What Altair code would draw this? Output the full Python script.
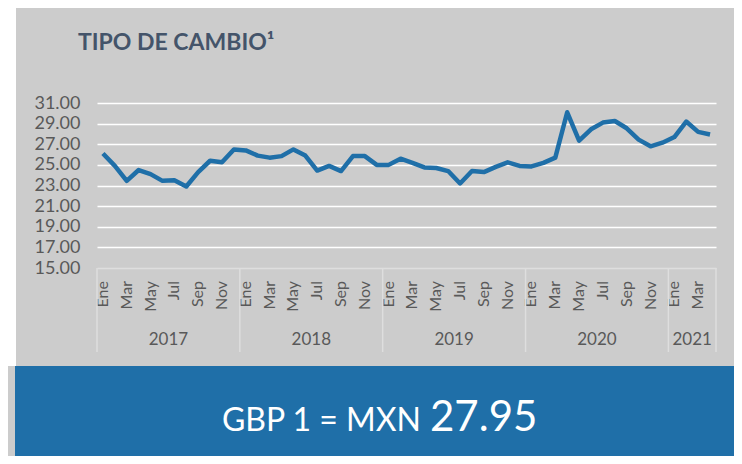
import altair as alt
import pandas as pd

# ---- data -------------------------------------------------------------
month_names = ["Ene", "Feb", "Mar", "Abr", "May", "Jun",
               "Jul", "Ago", "Sep", "Oct", "Nov", "Dic"]
years = [2017, 2018, 2019, 2020, 2021]
months_per_year = [12, 12, 12, 12, 4]
rate = [26.10, 24.90, 23.45, 24.50, 24.10, 23.45, 23.50, 22.90, 24.30, 25.40, 25.25, 26.50,
        26.40, 25.90, 25.70, 25.85, 26.50, 25.90, 24.45, 24.90, 24.40, 25.85, 25.85, 25.00,
        25.00, 25.60, 25.20, 24.75, 24.70, 24.40, 23.20, 24.40, 24.30, 24.80, 25.25, 24.90,
        24.85, 25.20, 25.70, 30.10, 27.35, 28.45, 29.10, 29.25, 28.55, 27.45, 26.80, 27.15,
        27.70, 29.20, 28.20, 27.95]
y_ticks = [15, 17, 19, 21, 23, 25, 27, 29, 31]
title_text = "TIPO DE CAMBIO¹"
banner_left = "GBP 1 = MXN"
banner_value = "27.95"

# ---- tables -----------------------------------------------------------
rows = []
i = 0
for yr, n in zip(years, months_per_year):
    for m in range(n):
        rows.append({"pos": i + 0.5, "rate": rate[i], "year": yr,
                     "month": month_names[m], "show": m % 2 == 0})
        i += 1
df = pd.DataFrame(rows)
n_total = len(df)
labels_df = df[df["show"]]

bounds, centers, start = [0], [], 0
for n in months_per_year:
    centers.append(start + n / 2)
    start += n
    bounds.append(start)
years_df = pd.DataFrame({"center": centers, "label": [str(y) for y in years]})
bounds_df = pd.DataFrame({"b": bounds})

W, H = 619, 165
PADL, PADT, PADR, PADB = 89, 95, 18, 188
GRAY_TXT = "#595959"
BLUE = "#1F6FA8"
FONT = "Lato"

xscale = alt.Scale(domain=[0, n_total], nice=False, zero=False)
yscale = alt.Scale(domain=[y_ticks[0], y_ticks[-1]], nice=False, zero=False)

one = pd.DataFrame({"a": [0]})

white_strip = alt.Chart(one).mark_rect(color="white").encode(
    x=alt.value(-PADL), x2=alt.value(-PADL + 8),
    y=alt.value(-PADT), y2=alt.value(263))

banner = alt.Chart(one).mark_rect(color=BLUE).encode(
    x=alt.value(-PADL + 7), x2=alt.value(W + PADR),
    y=alt.value(263), y2=alt.value(H + PADB))

line = alt.Chart(df).mark_line(color=BLUE, strokeWidth=4.5, strokeJoin="round").encode(
    x=alt.X("pos:Q", scale=xscale, axis=None),
    y=alt.Y("rate:Q", scale=yscale,
            axis=alt.Axis(values=y_ticks, format=".2f", labelFontSize=18,
                          labelColor=GRAY_TXT, labelFont=FONT, labelPadding=17,
                          ticks=False, domain=False, grid=True,
                          gridColor=alt.condition("datum.value == 15",
                                                  alt.value("#dedede"), alt.value("white")),
                          gridWidth=1.6, title=None)),
)

month_txt = alt.Chart(labels_df).mark_text(angle=270, align="right", baseline="middle",
                                           fontSize=16, color=GRAY_TXT, font=FONT).encode(
    x=alt.X("pos:Q", scale=xscale), y=alt.value(H + 13), text="month:N")

seps = alt.Chart(bounds_df).mark_rule(color="#dedede", strokeWidth=1.5).encode(
    x=alt.X("b:Q", scale=xscale), y=alt.value(H), y2=alt.value(H + 84))

year_txt = alt.Chart(years_df).mark_text(fontSize=17, color=GRAY_TXT, font=FONT,
                                         baseline="middle").encode(
    x=alt.X("center:Q", scale=xscale), y=alt.value(H + 72), text="label:N")

title = alt.Chart(one).mark_text(text=title_text, fontSize=23, fontWeight="bold",
                                 color="#44546A", font=FONT, align="left",
                                 baseline="alphabetic").encode(
    x=alt.value(-19), y=alt.value(-53))

b_left = alt.Chart(one).mark_text(text=banner_left, fontSize=32, color="white", font=FONT,
                                  align="right", baseline="alphabetic").encode(
    x=alt.value(324), y=alt.value(328))
b_val = alt.Chart(one).mark_text(text=banner_value, fontSize=42, color="white", font=FONT,
                                 align="left", baseline="alphabetic").encode(
    x=alt.value(333), y=alt.value(328))

chart = alt.layer(white_strip, banner, line, month_txt, seps, year_txt, title,
                  b_left, b_val).properties(
    width=W, height=H,
    padding={"left": PADL, "top": PADT, "right": PADR, "bottom": PADB},
    autosize=alt.AutoSizeParams(type="none"),
    background="#CCCCCC",
).configure_view(stroke=None)

chart.save("out.html", embed_options={"renderer": "svg", "actions": False})
